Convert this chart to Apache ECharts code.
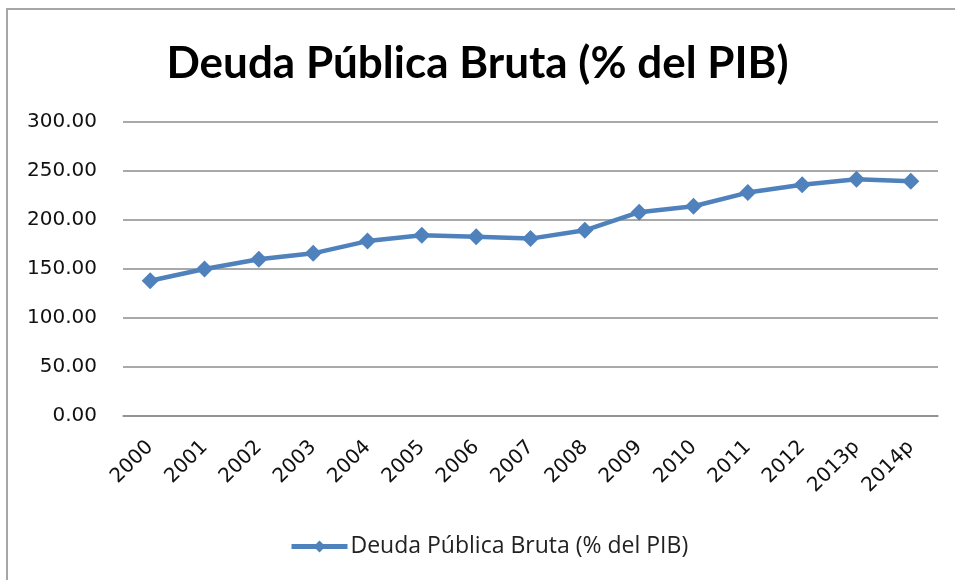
<!DOCTYPE html>
<html>
<head>
<meta charset="utf-8">
<script src="https://cdn.jsdelivr.net/npm/echarts@6/dist/echarts.min.js"></script>
<style>
  html, body { margin: 0; padding: 0; background: #fff; }
  #chart { width: 955px; height: 580px; }
</style>
</head>
<body>
<div id="chart"></div>
<script>
// 数据
const years = ['2000', '2001', '2002', '2003', '2004', '2005', '2006', '2007',
  '2008', '2009', '2010', '2011', '2012', '2013p', '2014p'];
const deuda = [138, 150, 160, 166, 178.5, 184.5, 183, 181,
  189.5, 208, 214, 228, 236, 241.5, 239.5];
const seriesName = 'Deuda Pública Bruta (% del PIB)';

const chart = echarts.init(document.getElementById('chart'), null, { renderer: 'canvas' });

chart.setOption({
  animation: false,
  title: {
    text: 'Deuda Pública Bruta (% del PIB)',
    left: 'center',
    top: 37,
    textStyle: { fontFamily: 'Lato', fontWeight: 'bold', fontSize: 44, color: '#000' }
  },
  // 外边框
  graphic: [{
    type: 'rect',
    shape: { x: 7, y: 9, width: 1200, height: 1200 },
    style: { fill: 'none', stroke: '#a6a6a6', lineWidth: 2 },
    silent: true
  }],
  legend: {
    bottom: 17,
    left: 284,
    itemWidth: 56,
    itemHeight: 15,
    itemGap: 4,
    lineStyle: { width: 5 },
    textStyle: { fontFamily: 'Open Sans', fontSize: 23, color: '#222', padding: [0, 0, 0, -2] },
    data: [seriesName]
  },
  grid: { left: 123, right: 17, top: 122, bottom: 164 },
  xAxis: {
    type: 'category',
    data: years,
    boundaryGap: true,
    axisLine: { lineStyle: { color: '#8c8c8c', width: 1.5 } },
    axisTick: { show: false },
    axisLabel: {
      rotate: 45,
      margin: 28,
      fontFamily: 'DejaVu Sans',
      fontSize: 20,
      color: '#111'
    }
  },
  yAxis: {
    type: 'value',
    min: 0,
    max: 300,
    interval: 50,
    axisLine: { show: false },
    axisTick: { show: false },
    splitLine: { lineStyle: { color: '#8c8c8c', width: 1.5 } },
    axisLabel: {
      margin: 26,
      fontFamily: 'DejaVu Sans',
      fontSize: 20,
      color: '#111',
      formatter: v => v.toFixed(2)
    }
  },
  series: [{
    name: seriesName,
    type: 'line',
    data: deuda,
    symbol: 'diamond',
    symbolSize: 17,
    lineStyle: { color: '#4f81bd', width: 4.5 },
    itemStyle: { color: '#4f81bd' }
  }]
});
</script>
</body>
</html>
